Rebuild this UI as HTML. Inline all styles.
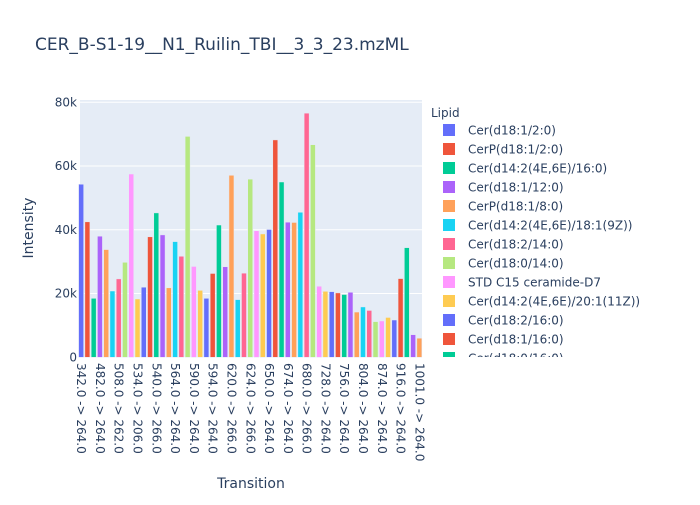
<!DOCTYPE html>
<html><head><meta charset="utf-8"><style>
body{margin:0;background:#fff;}
svg text{font-family:"DejaVu Sans","Liberation Sans",sans-serif;fill:#2a3f5f;}
</style></head><body>
<svg id="chart" width="700" height="500" xmlns="http://www.w3.org/2000/svg">
<rect width="700" height="500" fill="#fff"/>
<text x="35" y="50" font-size="17">CER_B-S1-19__N1_Ruilin_TBI__3_3_23.mzML</text>
<rect x="80" y="100" width="342" height="257" fill="#E5ECF6"/>
<g id="grid"></g><g id="bars"></g><g id="yticks"></g><g id="xticks"></g>
<text transform="translate(33,228) rotate(-90)" text-anchor="middle" font-size="14">Intensity</text>
<text x="251" y="488" text-anchor="middle" font-size="14">Transition</text>
<g id="legend">
<text x="431" y="117" font-size="12">Lipid</text>
</g>
</svg>
<script>
const values = [54.3,42.5,18.5,38.0,33.8,20.8,24.6,29.8,57.5,18.3,22.0,37.8,45.3,38.4,21.8,36.3,31.7,69.3,28.5,21.0,18.5,26.3,41.5,28.4,57.1,18.1,26.4,55.9,39.7,38.7,40.1,68.2,55.0,42.4,42.3,45.5,76.6,66.7,22.3,20.7,20.6,20.2,19.7,20.4,14.2,15.8,14.7,11.2,11.4,12.5,11.7,24.7,34.4,7.1,6.0];
const tickLabels = ["342.0 -> 264.0","482.0 -> 264.0","508.0 -> 262.0","534.0 -> 206.0","540.0 -> 266.0","564.0 -> 264.0","590.0 -> 264.0","594.0 -> 264.0","620.0 -> 266.0","624.0 -> 266.0","650.0 -> 264.0","674.0 -> 264.0","680.0 -> 266.0","728.0 -> 264.0","756.0 -> 264.0","804.0 -> 264.0","874.0 -> 264.0","916.0 -> 264.0","1001.0 -> 264.0"];
const yTicks = [0,20,40,60,80];
const yTickLabels = ["0","20k","40k","60k","80k"];
const legendNames = ["Cer(d18:1/2:0)","CerP(d18:1/2:0)","Cer(d14:2(4E,6E)/16:0)","Cer(d18:1/12:0)","CerP(d18:1/8:0)","Cer(d14:2(4E,6E)/18:1(9Z))","Cer(d18:2/14:0)","Cer(d18:0/14:0)","STD C15 ceramide-D7","Cer(d14:2(4E,6E)/20:1(11Z))","Cer(d18:2/16:0)","Cer(d18:1/16:0)","Cer(d18:0/16:0)"];
const colors = ["#636efa","#EF553B","#00cc96","#ab63fa","#FFA15A","#19d3f3","#FF6692","#B6E880","#FF97FF","#FECB52"];
const NS="http://www.w3.org/2000/svg";
const X0=78, X1=422.5, Y0=357.3, Y80=102.3;
const n=values.length, slot=(X1-X0)/n;
const xc=i=>X0+slot*(i+0.5);
const y=v=>Y0-(v/80)*(Y0-Y80);
function mk(tag,attrs,parent){const e=document.createElementNS(NS,tag);for(const k in attrs)e.setAttribute(k,attrs[k]);parent.appendChild(e);return e;}
const grid=document.getElementById('grid'), yt=document.getElementById('yticks');
yTicks.forEach((t,i)=>{
  if(t>0){const l=mk('line',{x1:80,x2:422,y1:y(t),y2:y(t),stroke:'#fff','stroke-width':1},grid);
  
  }
  const tx=mk('text',{x:77,y:y(t)+4,'text-anchor':'end','font-size':12},yt);
  tx.textContent=yTickLabels[i];
  
  
});
const bars=document.getElementById('bars');
values.forEach((v,i)=>{
  const w=slot*0.8;
  const r=mk('rect',{x:xc(i)-w/2,y:y(v),width:w,height:Y0-y(v),fill:colors[i%10],stroke:'#E5ECF6','stroke-width':0.5},bars);
  
  
});
const xt=document.getElementById('xticks');
tickLabels.forEach((lab,j)=>{
  const x=xc(j*3);
  const t=mk('text',{transform:`translate(${x-4},363) rotate(90)`,'font-size':12},xt);
  t.textContent=lab;
  
  
});
const lg=document.getElementById('legend');
const clip=mk('clipPath',{id:'lgclip'},lg);
mk('rect',{x:425,y:100,width:275,height:257},clip);
const lgi=mk('g',{'clip-path':'url(#lgclip)'},lg);
legendNames.forEach((nm,i)=>{
  const yy=130+i*19;
  const s=mk('rect',{x:443,y:yy-6,width:12,height:12,fill:colors[i%10]},lgi);
  
  
  const t=mk('text',{x:468,y:yy+4.5,'font-size':12},lgi);
  t.textContent=nm;
  
  
});
</script>
</body></html>
